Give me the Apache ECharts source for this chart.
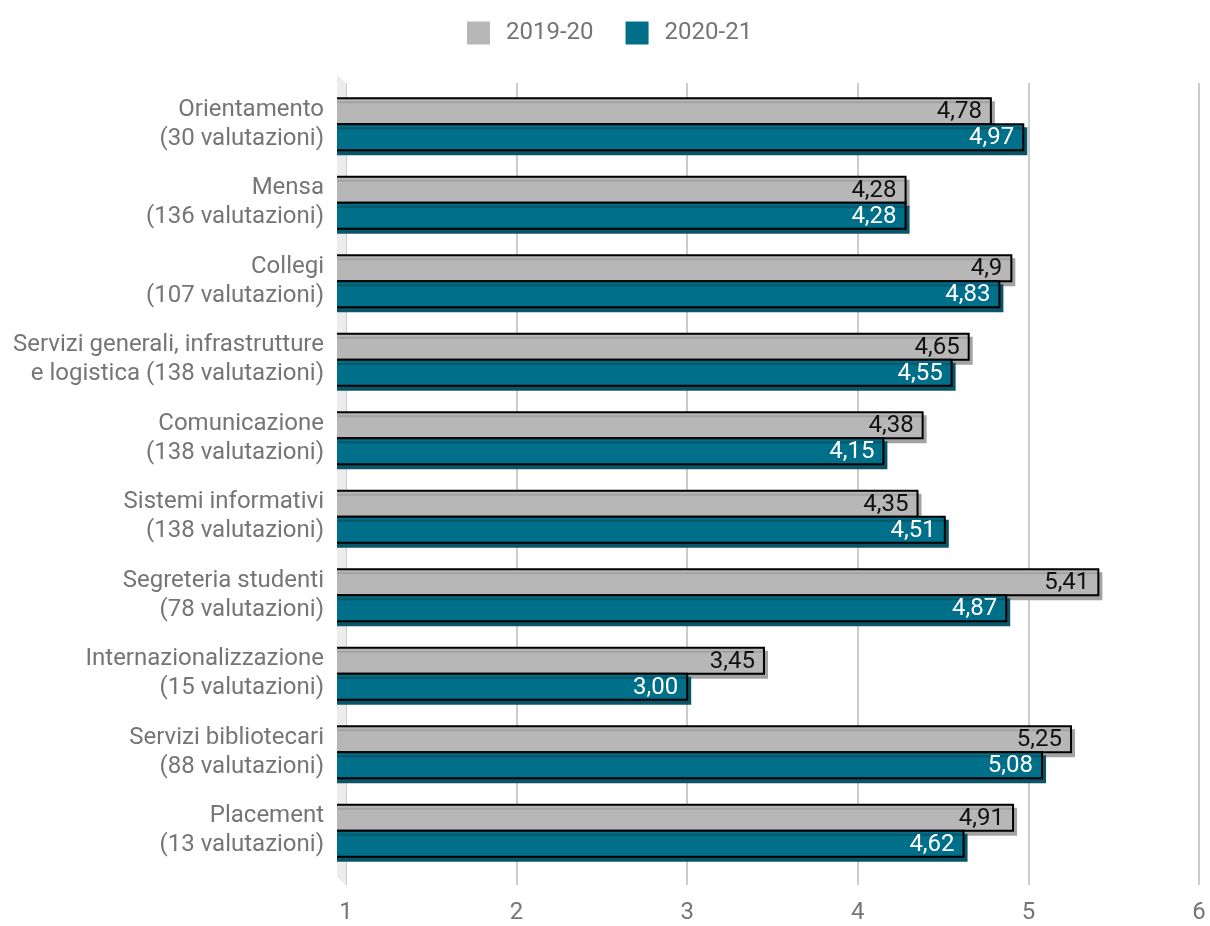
<!DOCTYPE html>
<html>
<head>
<meta charset="utf-8">
<script src="https://cdn.jsdelivr.net/npm/echarts@6/dist/echarts.min.js"></script>
<style>
  html, body { margin: 0; padding: 0; background: #ffffff; }
  #chart { width: 1210px; height: 926px; }
</style>
</head>
<body>
<div id="chart"></div>
<script>
// Service areas, top to bottom
const categories = [
  'Orientamento\n(30 valutazioni)',
  'Mensa\n(136 valutazioni)',
  'Collegi\n(107 valutazioni)',
  'Servizi generali, infrastrutture\ne logistica (138 valutazioni)',
  'Comunicazione\n(138 valutazioni)',
  'Sistemi informativi\n(138 valutazioni)',
  'Segreteria studenti\n(78 valutazioni)',
  'Internazionalizzazione\n(15 valutazioni)',
  'Servizi bibliotecari\n(88 valutazioni)',
  'Placement\n(13 valutazioni)'
];

// Mean scores, kept as written so labels keep their decimals
const values2019 = ['4.78', '4.28', '4.9', '4.65', '4.38', '4.35', '5.41', '3.45', '5.25', '4.91'];
const values2020 = ['4.97', '4.28', '4.83', '4.55', '4.15', '4.51', '4.87', '3.00', '5.08', '4.62'];

const seriesNames = ['2019-20', '2020-21'];
const seriesColors = ['#b7b7b7', '#00708a'];
const shadowColors = ['#a3a3a3', '#0b5568'];
const labelColors = ['#111111', '#ffffff'];

// Scale ticks
const xMin = 1;
const xMax = 6;
const xStep = 1;

const W = 1210, H = 926;
const FONT = 'Roboto, "Noto Sans", sans-serif';
const TEXT_GREY = '#757575';
const FONT_SIZE = 24;
const BAR_H = 26;

// Grid for the scale / gridlines and grid for the bars (bars start a bit left, 3D floor)
const axisGrid = { left: 346, right: 11, top: 83, bottom: 41 };
const barGrid = { left: 337, right: 11, top: 85, bottom: 56 };
const axisWidth = W - axisGrid.left - axisGrid.right;
const barMin = xMin - (axisGrid.left - barGrid.left) * (xMax - xMin) / axisWidth;

const chart = echarts.init(document.getElementById('chart'), null, { renderer: 'canvas' });

// One bar of a pair: the face runs from past the clipped left edge to the value,
// the first series sits above the band centre, the second below it.
function makeSeries(i, raw) {
  return {
    name: seriesNames[i],
    type: 'custom',
    xAxisIndex: 1,
    yAxisIndex: 1,
    clip: true,
    encode: { x: 1, y: 0 },
    itemStyle: { color: seriesColors[i] },
    data: raw.map((v, k) => [k, Number(v)]),
    renderItem: (params, api) => {
      const cat = api.value(0);
      const val = api.value(1);
      const end = api.coord([val, cat]);
      const start = api.coord([barMin, cat]);
      const top = i === 0 ? end[1] - BAR_H : end[1];
      const x0 = start[0] - 12;
      return {
        type: 'rect',
        shape: { x: x0, y: top, width: end[0] - x0, height: BAR_H },
        style: {
          fill: seriesColors[i],
          stroke: '#000000',
          lineWidth: 2,
          shadowColor: shadowColors[i],
          shadowOffsetX: 3,
          shadowOffsetY: 4,
          shadowBlur: 0
        },
        textContent: {
          style: {
            text: raw[params.dataIndex].replace('.', ','),
            fill: labelColors[i],
            fontSize: FONT_SIZE,
            fontFamily: FONT
          }
        },
        textConfig: { position: 'insideRight', distance: 10, offset: [0, 1] }
      };
    }
  };
}

chart.setOption({
  animation: false,
  backgroundColor: '#ffffff',
  textStyle: { fontFamily: FONT },
  legend: {
    top: 16,
    left: 462,
    icon: 'rect',
    itemWidth: 23,
    itemHeight: 23,
    itemGap: 32,
    textStyle: { fontSize: FONT_SIZE, color: TEXT_GREY, fontFamily: FONT, padding: [0, 0, 0, 11] },
    data: seriesNames
  },
  grid: [
    Object.assign({ containLabel: false }, axisGrid),
    Object.assign({ containLabel: false }, barGrid)
  ],
  xAxis: [
    {
      gridIndex: 0,
      type: 'value',
      min: xMin,
      max: xMax,
      interval: xStep,
      axisLine: { show: false },
      axisTick: { show: false },
      splitLine: { show: true, lineStyle: { color: '#cccccc', width: 2 } },
      axisLabel: { fontSize: FONT_SIZE, color: TEXT_GREY, margin: 16, fontFamily: FONT }
    },
    {
      gridIndex: 1,
      type: 'value',
      min: barMin,
      max: xMax,
      show: false,
      splitLine: { show: false }
    }
  ],
  yAxis: [
    { gridIndex: 0, type: 'value', show: false, splitLine: { show: false } },
    {
      gridIndex: 1,
      type: 'category',
      inverse: true,
      data: categories,
      axisLine: { show: false },
      axisTick: { show: false },
      splitLine: { show: false },
      axisLabel: {
        fontSize: FONT_SIZE,
        lineHeight: 29,
        color: TEXT_GREY,
        margin: 13,
        align: 'right',
        padding: [6, 0, 0, 0],
        fontFamily: FONT
      }
    }
  ],
  series: [makeSeries(0, values2019), makeSeries(1, values2020)]
});

// Left wall of the 3D floor, placed from the scale's start
const x0 = chart.convertToPixel({ xAxisIndex: 0 }, xMin);
const depth = x0 - barGrid.left;
const wallTop = axisGrid.top;
const wallBottom = H - axisGrid.bottom;
chart.setOption({
  graphic: [{
    type: 'polygon',
    z: 0,
    silent: true,
    shape: {
      points: [
        [x0 - depth, wallTop - 8],
        [x0, wallTop],
        [x0, wallBottom],
        [x0 - depth, wallBottom - 8]
      ]
    },
    style: { fill: '#ececec' }
  }]
});
</script>
</body>
</html>
